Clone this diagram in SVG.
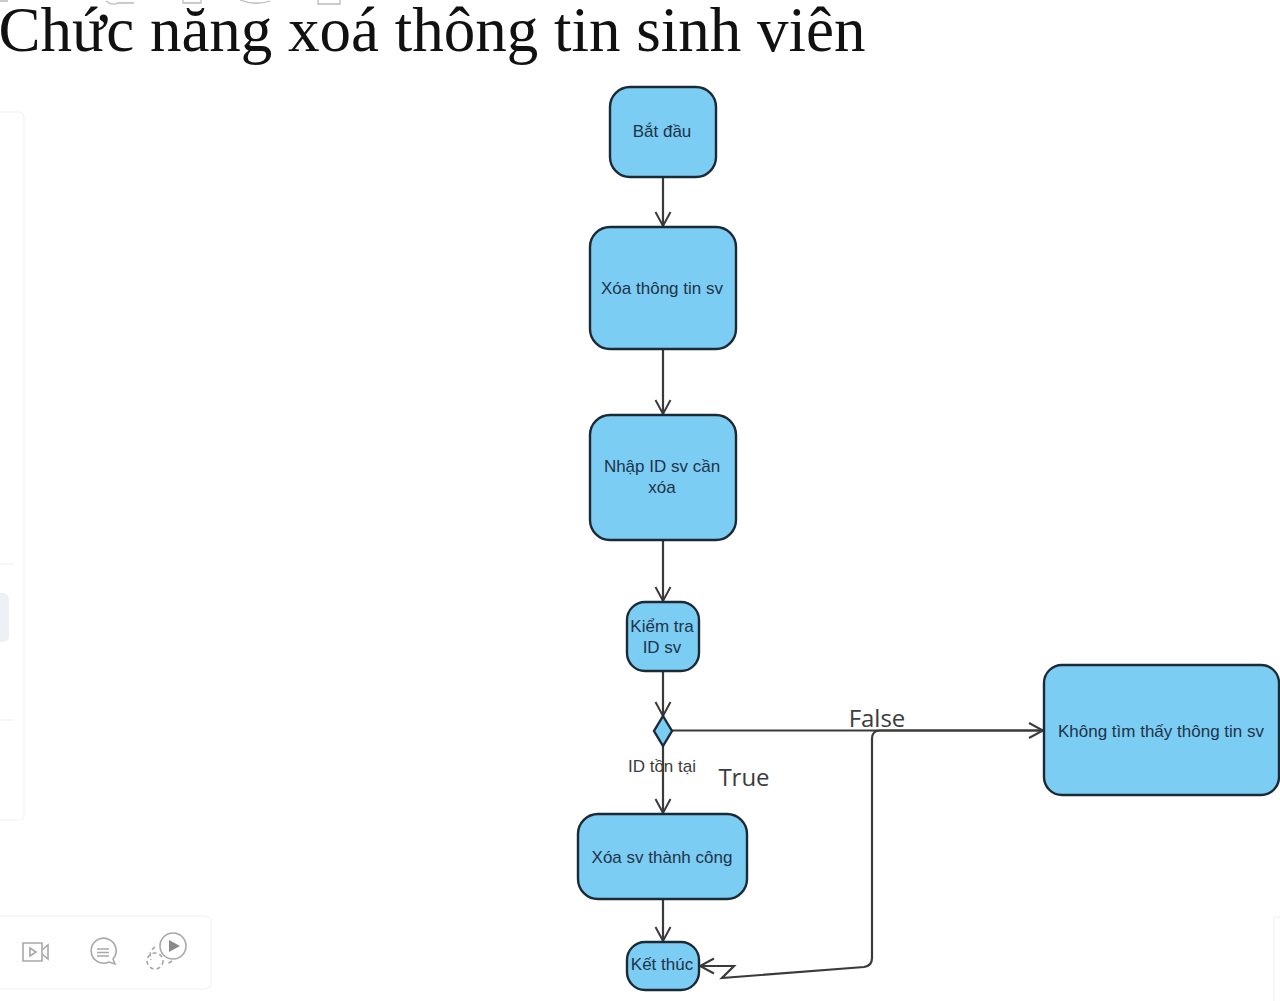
<svg xmlns="http://www.w3.org/2000/svg" width="1280" height="1001" viewBox="0 0 1280 1001">
<style>
.n{fill:#7ccdf4;stroke:#1c2a36;stroke-width:2.400}
.t{font-family:"Liberation Sans",Arial,sans-serif;font-size:17px;fill:#1f3348;text-anchor:middle}
.c{fill:none;stroke:#3a3a3a;stroke-width:2.200}
.l{font-family:"Open Sans","Noto Sans",sans-serif;fill:#3c3c3c}
.g{fill:none;stroke:#f5f5f5;stroke-width:1.500}
.i{fill:none;stroke:#a8a8a8;stroke-width:1.600}
</style>
<defs>
<marker id="a" markerUnits="userSpaceOnUse" markerWidth="20" markerHeight="20" refX="16" refY="10" orient="auto"><path d="M2 2.500 L16 10 L2 17.500" fill="none" stroke="#3a3a3a" stroke-width="2"/></marker>
</defs>
<rect width="1280" height="1001" fill="#fff"/>
<g id="background">
<path class="g" d="M0 112H18Q24 112 24 118V814Q24 820 18 820H0"/>
<path class="g" d="M0 564H14M0 720H14"/>
<rect x="-10" y="593" width="19" height="49" rx="6" fill="#edf1f6"/>
<path class="g" d="M0 916H204Q211 916 211 923V982Q211 989 204 989H0"/>
<path class="g" d="M1280 917H1274V1001"/>
<g id="toolbar-icons">
<path class="i" d="M23 943H42V961H23ZM42 950L48 945V959L42 954M30 948L36 952L30 956Z"/>
<path class="i" d="M109 962A12.500 12.500 0 1 1 113 959L115 964Z"/>
<path class="i" d="M97 949H109M97 952.500H109M97 956H109"/>
<circle class="i" cx="173" cy="946" r="13"/>
<path d="M169 940L180 946L169 952Z" fill="#8a8a8a"/>
<circle class="i" cx="155" cy="961" r="8" stroke-dasharray="4 3"/>
<path class="i" d="M155 947Q148 952 151 960M172 961Q169 963 166 964" stroke-dasharray="4 3"/>
</g>
<path d="M0 1H8M106 1Q112 6 118 3H134M183 0V3H201V0M240 0Q255 6 270 1M318 0V4H340V0" fill="none" stroke="#bbb" stroke-width="1.300"/>
</g>
<text x="-1.500" y="51" font-family="'Liberation Serif','Times New Roman',serif" font-size="63" fill="#111">Chức năng xoá thông tin sinh viên</text>
<g id="connectors">
<path class="c" marker-end="url(#a)" d="M663 178V226"/>
<path class="c" marker-end="url(#a)" d="M663 350V414"/>
<path class="c" marker-end="url(#a)" d="M663 541V601"/>
<path class="c" marker-end="url(#a)" d="M663 671V716"/>
<path class="c" marker-end="url(#a)" d="M663 745V813"/>
<path class="c" marker-end="url(#a)" d="M663 899V941"/>
<path class="c" marker-end="url(#a)" d="M672 730.500H1043"/>
<path class="c" marker-end="url(#a)" d="M1043 730.500H880Q872 730.500 872 739V958Q872 966 864 967L722 978L734 966H700"/>
</g>
<g id="start"><rect class="n" x="610" y="87" width="106" height="90" rx="20"/><text class="t" x="662" y="137">Bắt đầu</text></g>
<g id="delete"><rect class="n" x="590" y="227" width="146" height="122" rx="20"/><text class="t" x="662" y="294">Xóa thông tin sv</text></g>
<g id="input"><rect class="n" x="590" y="415" width="146" height="125" rx="20"/><text class="t" x="662" y="472">Nhập ID sv cần</text><text class="t" x="662" y="493">xóa</text></g>
<g id="check"><rect class="n" x="627" y="602" width="72" height="69" rx="18"/><text class="t" x="662" y="632">Kiểm tra</text><text class="t" x="662" y="653">ID sv</text></g>
<g id="decision"><path class="n" d="M663 716L672 731L663 746L654 731Z"/></g>
<g id="not-found"><rect class="n" x="1044" y="665" width="235" height="130" rx="18"/><text class="t" x="1161" y="737">Không tìm thấy thông tin sv</text></g>
<g id="success"><rect class="n" x="578" y="814" width="169" height="85" rx="20"/><text class="t" x="662" y="863">Xóa sv thành công</text></g>
<g id="end"><rect class="n" x="627" y="942" width="72" height="48" rx="18"/><text class="t" x="662" y="970">Kết thúc</text></g>
<g id="labels">
<text class="t" x="662" y="772" style="fill:#3c3c3c">ID tồn tại</text>
<text class="l" x="744" y="786" font-size="24" text-anchor="middle">True</text>
<text class="l" x="877" y="727" font-size="24" text-anchor="middle">False</text>
</g>
</svg>
